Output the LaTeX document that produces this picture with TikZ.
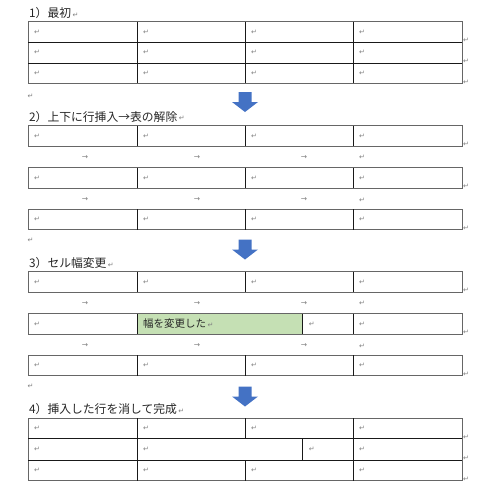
\documentclass[tikz,border=0pt]{standalone}
\usepackage{fontspec}
\newfontfamily\cjk{Noto Sans CJK JP}
\newfontfamily\symfont{DejaVu Sans}
\usepackage{xcolor}
\usetikzlibrary{positioning}
\definecolor{arrowblue}{HTML}{4472C4}
\definecolor{cellgreen}{HTML}{C5E0B4}
\definecolor{markgray}{HTML}{7F7F7F}
\tikzset{
  title/.style={font=\cjk\fontsize{11.8}{14}\selectfont, anchor=west, inner sep=0pt, text=black!85},
  celltext/.style={font=\cjk\fontsize{10.5}{12}\selectfont, anchor=west, inner sep=0pt, text=black!85},
  retmark/.style={font=\symfont\fontsize{7}{7}\selectfont, text=markgray, inner sep=0pt},
  tabmark/.style={font=\symfont\fontsize{7.5}{7.5}\selectfont, text=markgray, inner sep=0pt},
  outer/.style={draw=black!60, line width=1pt},
  inner/.style={draw=black!90, line width=0.7pt},
}

\begin{document}
\begin{tikzpicture}[x=1pt, y=-1pt]
    \useasboundingbox (0,0) rectangle (500,488);

    % 1) start
    \node [title] (t1) at (29,13) {1）最初};
    \node [retmark, right=1pt of t1.east, yshift=-2pt] (t1m) {↵};
    \draw [outer] (28,21.7) rectangle (462,83.3);
    \draw [inner] (28,42.3) -- (462,42.3) (28,63.3) -- (462,63.3);
    \foreach \x in {137,245,353}
        \draw [inner] (\x,21.7) -- (\x,83.3);
    \foreach \y [count=\r] in {32,52.8,73.3}
        \foreach \x [count=\c] in {37,146,254,362}
            \node [retmark] (a\r\c) at (\x,\y) {↵};
    \foreach \y [count=\r] in {40,61,82}
        \node [retmark] (ae\r) at (466,\y) {↵};
    \node [retmark] (p1) at (30.5,96) {↵};

    % 2) insert rows and split
    \node [title] (t2) at (29,116.7) {2）上下に行挿入→表の解除};
    \node [retmark, right=1pt of t2.east, yshift=-2pt] (t2m) {↵};
    \foreach \top [count=\r] in {125.7,167.7,209.3} {
        \draw [outer] (28,\top) rectangle (462,\top+20.6);
        \foreach \x in {137,245,353}
            \draw [inner] (\x,\top) -- (\x,\top+20.6);
        \foreach \x [count=\c] in {37,146,254,362}
            \node [retmark] (b\r\c) at (\x,\top+10.3) {↵};
        \node [retmark] (be\r) at (466,\top+19) {↵};
    }
    \foreach \y [count=\r] in {157.7,200} {
        \foreach \x [count=\c] in {85,197,304}
            \node [tabmark] (bt\r\c) at (\x,\y) {→};
        \node [retmark] (bp\r) at (362,\y) {↵};
    }
    \node [retmark] (p2) at (30.5,240) {↵};

    % 3) change cell width
    \node [title] (t3) at (29,263.3) {3）セル幅変更};
    \node [retmark, right=1pt of t3.east, yshift=-2pt] (t3m) {↵};
    \fill [cellgreen] (137,313.7) rectangle (302.7,334.3);
    \foreach \top [count=\r] in {271.7,313.7,355.3} {
        \draw [outer] (28,\top) rectangle (462,\top+20.6);
        \node [retmark] (ce\r) at (466,\top+19) {↵};
    }
    \foreach \top [count=\r] in {271.7,355.3} {
        \foreach \x in {137,245,353}
            \draw [inner] (\x,\top) -- (\x,\top+20.6);
        \foreach \x [count=\c] in {37,146,254,362}
            \node [retmark] (c\r\c) at (\x,\top+10.3) {↵};
    }
    \foreach \x in {137,302.7,353}
        \draw [inner] (\x,313.7) -- (\x,334.3);
    \node [retmark] (cm1) at (37,324) {↵};
    \node [celltext] (wide) at (143,324) {幅を変更した};
    \node [retmark, right=1pt of wide.east, yshift=-1pt] (widem) {↵};
    \node [retmark] (cm3) at (311.7,324) {↵};
    \node [retmark] (cm4) at (362,324) {↵};
    \foreach \y [count=\r] in {303.3,346} {
        \foreach \x [count=\c] in {85,197,304}
            \node [tabmark] (ct\r\c) at (\x,\y) {→};
        \node [retmark] (cp\r) at (362,\y) {↵};
    }
    \node [retmark] (p3) at (30.5,386) {↵};

    % 4) delete inserted rows
    \node [title] (t4) at (29,409.3) {4）挿入した行を消して完成};
    \node [retmark, right=1pt of t4.east, yshift=-2pt] (t4m) {↵};
    \draw [outer] (28,418) rectangle (462,480.7);
    \draw [inner] (28,438.7) -- (462,438.7) (28,460) -- (462,460);
    \foreach \x in {137,245,353} {
        \draw [inner] (\x,418) -- (\x,438.7);
        \draw [inner] (\x,460) -- (\x,480.7);
    }
    \foreach \x in {137,302.7,353}
        \draw [inner] (\x,438.7) -- (\x,460);
    \foreach \y [count=\r] in {428.3,470.3}
        \foreach \x [count=\c] in {37,146,254,362}
            \node [retmark] (d\r\c) at (\x,\y) {↵};
    \foreach \x [count=\c] in {37,146,311.7,362}
        \node [retmark] (dm\c) at (\x,449.3) {↵};
    \foreach \y [count=\r] in {437,458,479}
        \node [retmark] (de\r) at (466,\y) {↵};

    % down arrows
    \foreach \t in {92,239.5,386.5}
        \fill [arrowblue] (238.5,\t) -- (251.5,\t) -- (251.5,\t+10) -- (258,\t+10)
            -- (245,\t+20) -- (232,\t+10) -- (238.5,\t+10) -- cycle;
\end{tikzpicture}
\end{document}
